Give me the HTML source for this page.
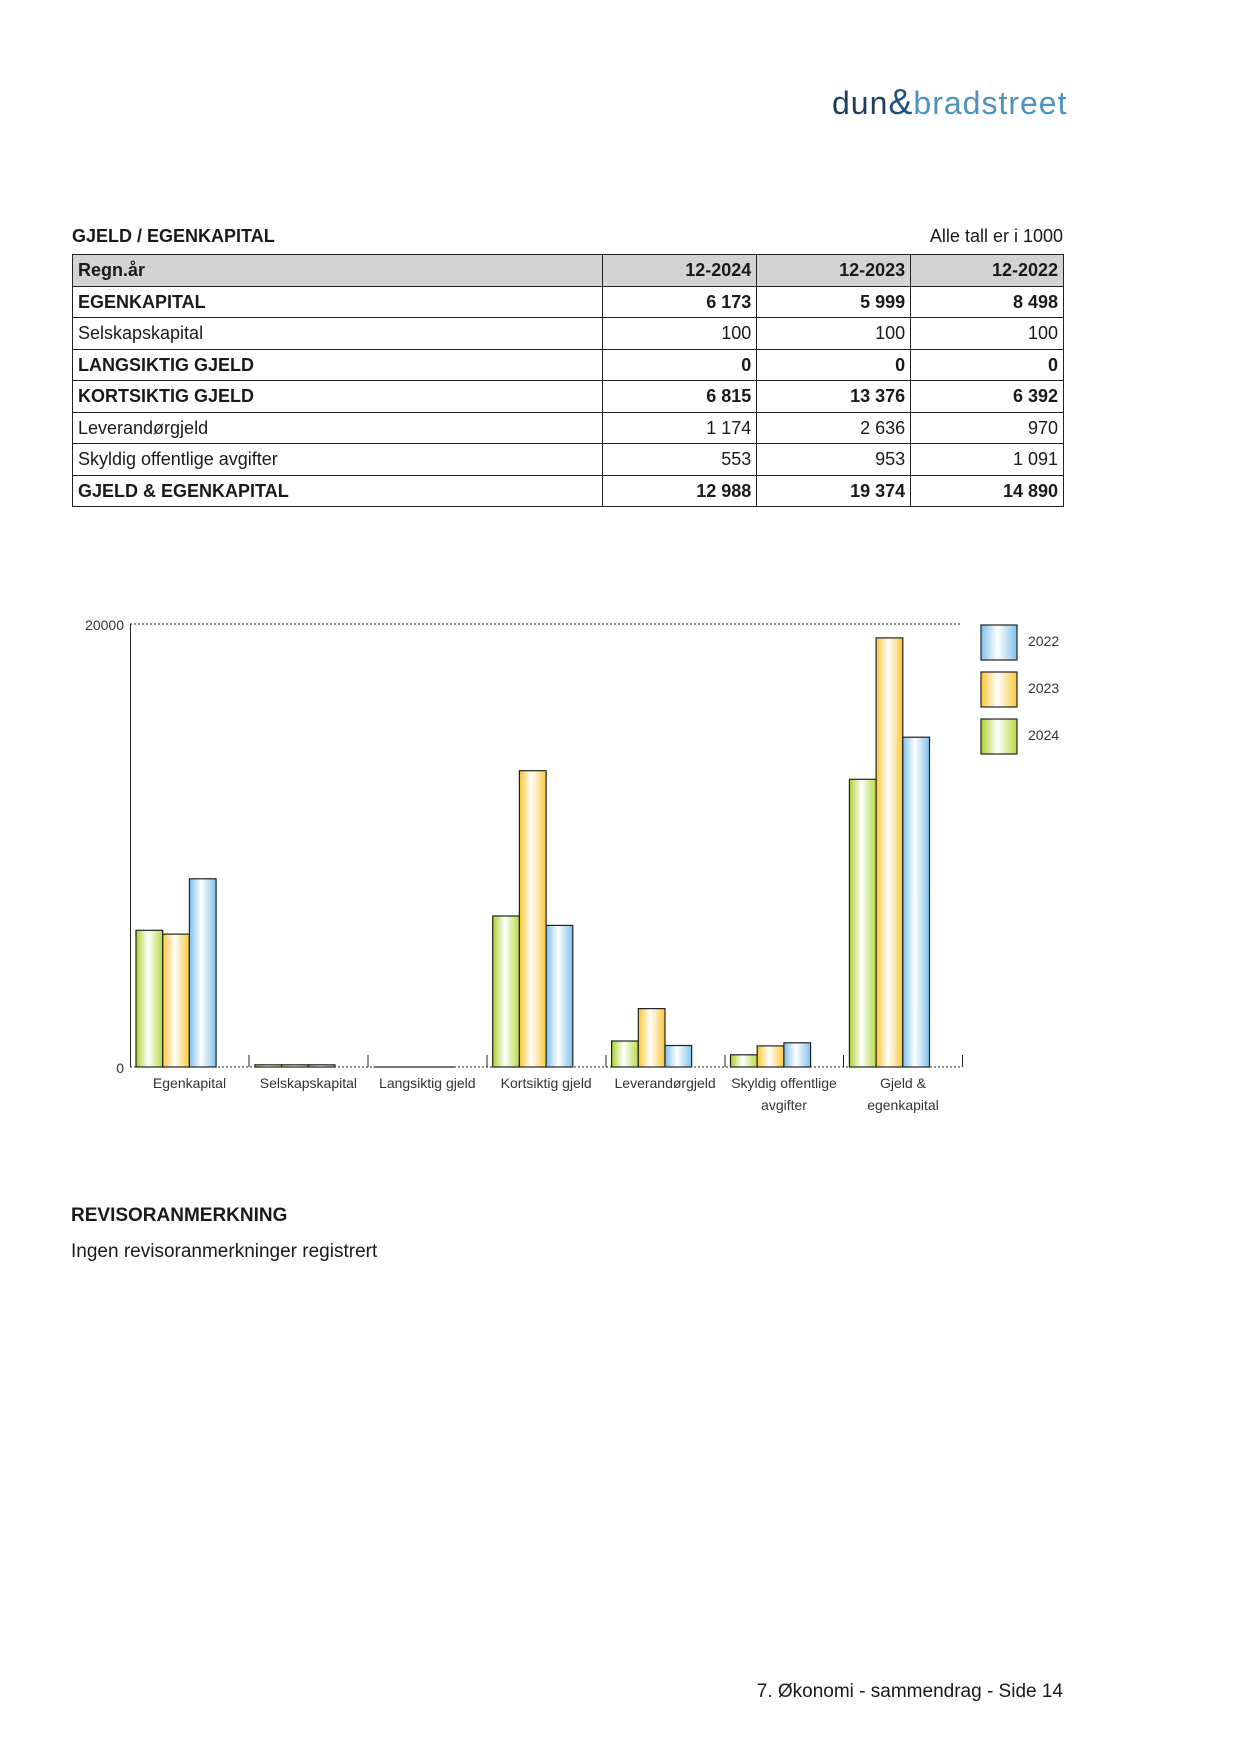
<!DOCTYPE html>
<html><head><meta charset="utf-8"><style>
body{margin:0;width:1241px;height:1754px;position:relative;background:#fff;font-family:"Liberation Sans",sans-serif;color:#1a1a1a;overflow:hidden}
.abs{position:absolute}
table{position:absolute;left:72px;top:254px;width:992px;border-collapse:collapse;font-size:18px}
td{border:1px solid #222;height:30.5px;padding:0 5px;line-height:30px}
td.n{text-align:right}
tr.h td{background:#d3d3d3;font-weight:bold}
tr.b td{font-weight:bold}
</style></head><body>
<div class="abs" style="left:832px;top:82px;font-size:32px;letter-spacing:1px;line-height:40px;white-space:nowrap"><span style="color:#1f3d5c">dun</span><span style="color:#1f4f78;font-size:36px">&amp;</span><span style="color:#4c93bd">bradstreet</span></div>
<div class="abs" style="left:72px;top:226px;font-size:18px;font-weight:bold">GJELD / EGENKAPITAL</div>
<div class="abs" style="right:178px;top:226px;font-size:18px">Alle tall er i 1000</div>
<table>
<colgroup><col style="width:531px"><col style="width:154px"><col style="width:154px"><col style="width:153px"></colgroup>
<tr class="h"><td>Regn.år</td><td class="n">12-2024</td><td class="n">12-2023</td><td class="n">12-2022</td></tr>
<tr class="b"><td>EGENKAPITAL</td><td class="n">6 173</td><td class="n">5 999</td><td class="n">8 498</td></tr>
<tr><td>Selskapskapital</td><td class="n">100</td><td class="n">100</td><td class="n">100</td></tr>
<tr class="b"><td>LANGSIKTIG GJELD</td><td class="n">0</td><td class="n">0</td><td class="n">0</td></tr>
<tr class="b"><td>KORTSIKTIG GJELD</td><td class="n">6 815</td><td class="n">13 376</td><td class="n">6 392</td></tr>
<tr><td>Leverandørgjeld</td><td class="n">1 174</td><td class="n">2 636</td><td class="n">970</td></tr>
<tr><td>Skyldig offentlige avgifter</td><td class="n">553</td><td class="n">953</td><td class="n">1 091</td></tr>
<tr class="b"><td>GJELD &amp; EGENKAPITAL</td><td class="n">12 988</td><td class="n">19 374</td><td class="n">14 890</td></tr>
</table>

<svg class="abs" style="left:0;top:0" width="1241" height="1754" font-family="Liberation Sans, sans-serif">
<defs>
<linearGradient id="g" x1="0" x2="1"><stop offset="0" stop-color="#a9d12c"/><stop offset="0.45" stop-color="#ffffff"/><stop offset="1" stop-color="#b7da45"/></linearGradient>
<linearGradient id="y" x1="0" x2="1"><stop offset="0" stop-color="#f9c531"/><stop offset="0.45" stop-color="#ffffff"/><stop offset="1" stop-color="#f9c83c"/></linearGradient>
<linearGradient id="b" x1="0" x2="1"><stop offset="0" stop-color="#7cc0ea"/><stop offset="0.45" stop-color="#ffffff"/><stop offset="1" stop-color="#7fc2ec"/></linearGradient>
</defs>
<line x1="130" y1="624" x2="962" y2="624" stroke="#222" stroke-dasharray="2,2"/>
<line x1="130" y1="1067" x2="962" y2="1067" stroke="#222" stroke-dasharray="2,2"/>
<line x1="130.5" y1="624" x2="130.5" y2="1067" stroke="#222"/>
<g stroke="#222">
<line x1="249" y1="1055" x2="249" y2="1067"/><line x1="368" y1="1055" x2="368" y2="1067"/><line x1="487" y1="1055" x2="487" y2="1067"/><line x1="606" y1="1055" x2="606" y2="1067"/><line x1="725" y1="1055" x2="725" y2="1067"/><line x1="843.5" y1="1055" x2="843.5" y2="1067"/><line x1="962.5" y1="1055" x2="962.5" y2="1067"/>
</g>
<text x="124" y="630" font-size="14" text-anchor="end" fill="#333">20000</text>
<text x="124" y="1073" font-size="14" text-anchor="end" fill="#333">0</text>
<g stroke="#222" stroke-width="1.2">
<rect x="136" y="930.3" width="26.7" height="136.7" fill="url(#g)"/><rect x="162.7" y="934.1" width="26.7" height="132.9" fill="url(#y)"/><rect x="189.4" y="878.8" width="26.7" height="188.2" fill="url(#b)"/>
<rect x="254.9" y="1064.8" width="26.7" height="2.2" fill="url(#g)"/><rect x="281.6" y="1064.8" width="26.7" height="2.2" fill="url(#y)"/><rect x="308.3" y="1064.8" width="26.7" height="2.2" fill="url(#b)"/>
<line x1="373.8" y1="1067" x2="454" y2="1067"/>
<rect x="492.7" y="916" width="26.7" height="151" fill="url(#g)"/><rect x="519.4" y="770.7" width="26.7" height="296.3" fill="url(#y)"/><rect x="546.1" y="925.4" width="26.7" height="141.6" fill="url(#b)"/>
<rect x="611.6" y="1041" width="26.7" height="26" fill="url(#g)"/><rect x="638.3" y="1008.6" width="26.7" height="58.4" fill="url(#y)"/><rect x="665" y="1045.5" width="26.7" height="21.5" fill="url(#b)"/>
<rect x="730.5" y="1054.8" width="26.7" height="12.2" fill="url(#g)"/><rect x="757.2" y="1045.9" width="26.7" height="21.1" fill="url(#y)"/><rect x="783.9" y="1042.8" width="26.7" height="24.2" fill="url(#b)"/>
<rect x="849.4" y="779.3" width="26.7" height="287.7" fill="url(#g)"/><rect x="876.1" y="637.9" width="26.7" height="429.1" fill="url(#y)"/><rect x="902.8" y="737.2" width="26.7" height="329.8" fill="url(#b)"/>
<rect x="981" y="625" width="36" height="35" fill="url(#b)"/><rect x="981" y="672" width="36" height="35" fill="url(#y)"/><rect x="981" y="719" width="36" height="35" fill="url(#g)"/>
</g>
<g font-size="14" fill="#333">
<text x="1028" y="646">2022</text><text x="1028" y="693">2023</text><text x="1028" y="740">2024</text>
</g>
<g font-size="14" fill="#333" text-anchor="middle">
<text x="189.5" y="1088">Egenkapital</text>
<text x="308.4" y="1088">Selskapskapital</text>
<text x="427.3" y="1088">Langsiktig gjeld</text>
<text x="546.2" y="1088">Kortsiktig gjeld</text>
<text x="665.1" y="1088">Leverandørgjeld</text>
<text x="784" y="1088">Skyldig offentlige</text>
<text x="784" y="1110">avgifter</text>
<text x="903" y="1088">Gjeld &amp;</text>
<text x="903" y="1110">egenkapital</text>
</g>
</svg>

<div class="abs" style="left:71px;top:1205px;font-size:19px;font-weight:bold">REVISORANMERKNING</div>
<div class="abs" style="left:71px;top:1241px;font-size:19px">Ingen revisoranmerkninger registrert</div>
<div class="abs" style="right:178px;top:1681px;font-size:19px">7. Økonomi - sammendrag - Side 14</div>
</body></html>
